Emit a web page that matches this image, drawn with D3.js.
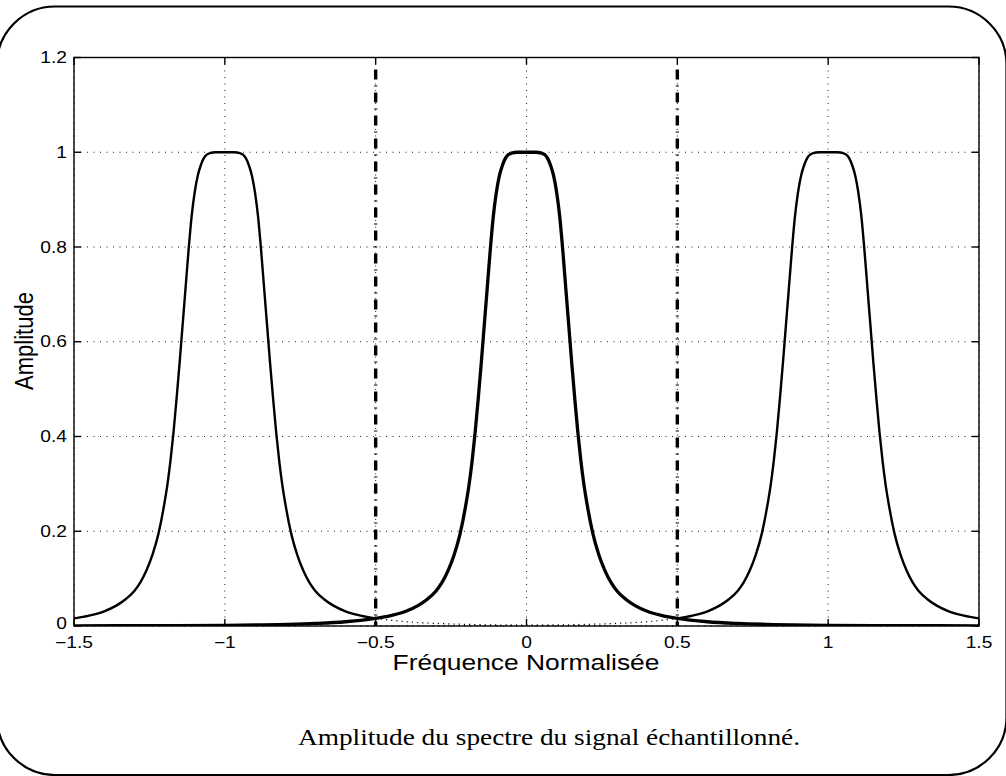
<!DOCTYPE html>
<html>
<head>
<meta charset="utf-8">
<script src="https://cdn.jsdelivr.net/npm/d3@7"></script>
<style>
  body { margin: 0; background: #fff; }
  svg { display: block; }
  .tick-label { font-family: "Liberation Sans", Arial, sans-serif; font-size: 16px; fill: #000; }
  .axis-title { font-family: "Liberation Sans", Arial, sans-serif; fill: #000; }
  .caption { font-family: "Liberation Serif", "DejaVu Serif", serif; font-size: 24px; fill: #000; }
</style>
</head>
<body>
<div id="chart"></div>
<script>
// tick values and labels
var xTicks = [-1.5, -1, -0.5, 0, 0.5, 1, 1.5];
var xTickLabels = ["\u22121.5", "\u22121", "\u22120.5", "0", "0.5", "1", "1.5"];
var yTicks = [0, 0.2, 0.4, 0.6, 0.8, 1, 1.2];
var yTickLabels = ["0", "0.2", "0.4", "0.6", "0.8", "1", "1.2"];

// spectrum replicas, each centred on a multiple of the sampling frequency
var peakCenters = [-1, 0, 1];

// one replica: distance from its centre -> amplitude
var profileOffset = [0, 0.03, 0.05, 0.06, 0.07, 0.08, 0.09, 0.10, 0.11, 0.12, 0.13, 0.14, 0.15, 0.16, 0.17, 0.18, 0.19, 0.20, 0.22, 0.24, 0.26, 0.28, 0.30, 0.33, 0.36, 0.40, 0.45, 0.5, 0.6, 0.7, 0.8, 1.0, 1.2, 1.5];
var profileAmp    = [1, 1, 0.998, 0.995, 0.987, 0.972, 0.95, 0.915, 0.865, 0.795, 0.715, 0.635, 0.555, 0.48, 0.41, 0.35, 0.30, 0.26, 0.195, 0.15, 0.117, 0.092, 0.074, 0.056, 0.043, 0.031, 0.022, 0.016, 0.009, 0.0055, 0.0035, 0.0015, 0.0008, 0.0004];

// Nyquist limits drawn as dash-dot lines
var nyquist = [-0.5, 0.5];

var margin = {left: 74, right: 979, top: 57.5, bottom: 626};
var W = 1006, H = 776;

var svg = d3.select("#chart").append("svg")
    .attr("width", W)
    .attr("height", H);

// outer rounded frame
svg.append("rect")
    .attr("x", -3)
    .attr("y", 6.5)
    .attr("width", 1009.5)
    .attr("height", 768.5)
    .attr("rx", 58)
    .attr("ry", 58)
    .attr("fill", "none")
    .attr("stroke", "#000")
    .attr("stroke-width", 2.2);

var x = d3.scaleLinear().domain([-1.5, 1.5]).range([margin.left, margin.right]);
var y = d3.scaleLinear().domain([0, 1.2]).range([margin.bottom, margin.top]);

svg.append("clipPath").attr("id", "plotclip")
  .append("rect")
    .attr("x", margin.left).attr("y", margin.top - 2)
    .attr("width", margin.right - margin.left)
    .attr("height", margin.bottom - margin.top + 2);

// grid
var grid = svg.append("g").attr("class", "grid");
grid.selectAll(".vgrid")
    .data(xTicks)
  .enter().append("line")
    .attr("x1", function(d) { return x(d); })
    .attr("x2", function(d) { return x(d); })
    .attr("y1", margin.top)
    .attr("y2", margin.bottom)
    .attr("stroke", "#000")
    .attr("stroke-width", 0.9)
    .attr("stroke-dasharray", "1,5.5");
grid.selectAll(".hgrid")
    .data(yTicks)
  .enter().append("line")
    .attr("x1", margin.left)
    .attr("x2", margin.right)
    .attr("y1", function(d) { return y(d); })
    .attr("y2", function(d) { return y(d); })
    .attr("stroke", "#000")
    .attr("stroke-width", 0.9)
    .attr("stroke-dasharray", "1,5.5");

// build replica points between two x limits
function replica(center, lo, hi) {
  var pts = [];
  for (var i = profileOffset.length - 1; i > 0; i--) {
    pts.push([center - profileOffset[i], profileAmp[i]]);
  }
  for (var j = 0; j < profileOffset.length; j++) {
    pts.push([center + profileOffset[j], profileAmp[j]]);
  }
  return pts.filter(function(p) { return p[0] >= lo - 1e-9 && p[0] <= hi + 1e-9; });
}

var line = d3.line()
    .x(function(d) { return x(d[0]); })
    .y(function(d) { return y(d[1]); })
    .curve(d3.curveMonotoneX);

var curves = svg.append("g").attr("clip-path", "url(#plotclip)");

// tails of the side replicas inside the base band, dotted
curves.append("path")
    .attr("d", line(replica(peakCenters[0], -0.5, 0.5)))
    .attr("fill", "none").attr("stroke", "#000")
    .attr("stroke-width", 1.2).attr("stroke-dasharray", "1.2,4");
curves.append("path")
    .attr("d", line(replica(peakCenters[2], -0.5, 0.5)))
    .attr("fill", "none").attr("stroke", "#000")
    .attr("stroke-width", 1.2).attr("stroke-dasharray", "1.2,4");

// side replicas
curves.append("path")
    .attr("d", line(replica(peakCenters[0], -1.5, -0.5)))
    .attr("fill", "none").attr("stroke", "#000").attr("stroke-width", 2.4)
    .attr("stroke-linejoin", "round");
curves.append("path")
    .attr("d", line(replica(peakCenters[2], 0.5, 1.5)))
    .attr("fill", "none").attr("stroke", "#000").attr("stroke-width", 2.4)
    .attr("stroke-linejoin", "round");

// central spectrum over the whole axis
curves.append("path")
    .attr("d", line(replica(peakCenters[1], -1.5, 1.5)))
    .attr("fill", "none").attr("stroke", "#000").attr("stroke-width", 3.3)
    .attr("stroke-linejoin", "round");

// dash-dot Nyquist lines
svg.selectAll(".nyq")
    .data(nyquist)
  .enter().append("line")
    .attr("x1", function(d) { return x(d); })
    .attr("x2", function(d) { return x(d); })
    .attr("y1", margin.top + 12)
    .attr("y2", margin.bottom)
    .attr("stroke", "#000")
    .attr("stroke-width", 3.4)
    .attr("stroke-dasharray", "10,6,1,6");

// box with inward ticks on all four sides
var box = svg.append("g");
box.append("rect")
    .attr("x", margin.left).attr("y", margin.top)
    .attr("width", margin.right - margin.left)
    .attr("height", margin.bottom - margin.top)
    .attr("fill", "none").attr("stroke", "#000").attr("stroke-width", 1.4);

var tickLen = 7;
xTicks.forEach(function(d) {
  box.append("line").attr("x1", x(d)).attr("x2", x(d))
    .attr("y1", margin.bottom).attr("y2", margin.bottom - tickLen)
    .attr("stroke", "#000").attr("stroke-width", 1.4);
  box.append("line").attr("x1", x(d)).attr("x2", x(d))
    .attr("y1", margin.top).attr("y2", margin.top + tickLen)
    .attr("stroke", "#000").attr("stroke-width", 1.4);
});
yTicks.forEach(function(d) {
  box.append("line").attr("x1", margin.left).attr("x2", margin.left + tickLen)
    .attr("y1", y(d)).attr("y2", y(d))
    .attr("stroke", "#000").attr("stroke-width", 1.4);
  box.append("line").attr("x1", margin.right).attr("x2", margin.right - tickLen)
    .attr("y1", y(d)).attr("y2", y(d))
    .attr("stroke", "#000").attr("stroke-width", 1.4);
});

// tick labels (the picture's text is a little wider than normal)
var stretch = 1.2;
svg.selectAll(".xlab")
    .data(xTicks)
  .enter().append("text")
    .attr("class", "tick-label")
    .attr("text-anchor", "middle")
    .attr("transform", function(d) { return "translate(" + x(d) + ",648) scale(" + stretch + ",1)"; })
    .text(function(d, i) { return xTickLabels[i]; });

svg.selectAll(".ylab")
    .data(yTicks)
  .enter().append("text")
    .attr("class", "tick-label")
    .attr("text-anchor", "end")
    .attr("transform", function(d) { return "translate(67," + (y(d) + (d === 0 ? 3 : 5.5)) + ") scale(" + stretch + ",1)"; })
    .text(function(d, i) { return yTickLabels[i]; });

// axis titles
svg.append("text")
    .attr("class", "axis-title")
    .attr("text-anchor", "middle")
    .attr("transform", "translate(526,670) scale(1.2,1)")
    .style("font-size", "22px")
    .text("Fréquence Normalisée");

svg.append("text")
    .attr("class", "axis-title")
    .attr("text-anchor", "middle")
    .attr("transform", "translate(33,341) scale(1.2,1) rotate(-90)")
    .style("font-size", "22px")
    .text("Amplitude");

// caption
svg.append("text")
    .attr("class", "caption")
    .attr("x", 549)
    .attr("y", 745)
    .attr("text-anchor", "middle")
    .attr("textLength", 502)
    .attr("lengthAdjust", "spacingAndGlyphs")
    .text("Amplitude du spectre du signal échantillonné.");
</script>
</body>
</html>
